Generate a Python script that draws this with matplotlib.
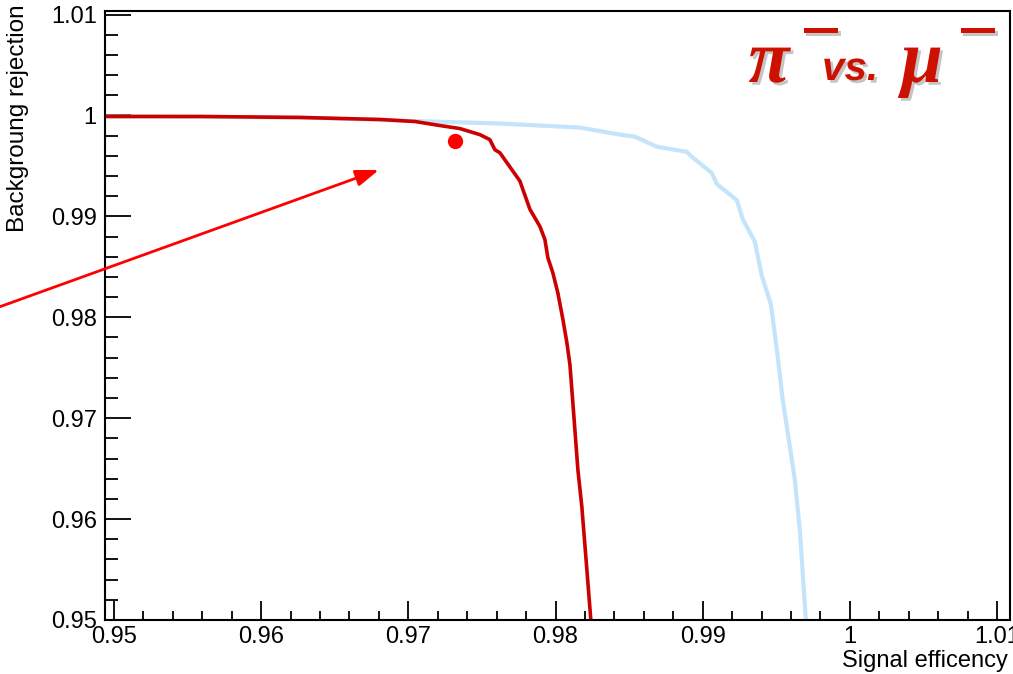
import matplotlib
matplotlib.use('Agg')
import matplotlib.pyplot as plt
import matplotlib.patheffects as pe
from matplotlib.ticker import FixedLocator, MultipleLocator, FuncFormatter

plt.rcParams['font.family'] = ['Liberation Sans', 'DejaVu Sans']

# pi- efficiency curve (dark red)
eff_pi = [0.94939, 0.95584, 0.96264, 0.96807, 0.97045, 0.97215, 0.97350, 0.97486, 0.97554,
          0.97588, 0.97622, 0.97690, 0.97758, 0.97826, 0.97894, 0.97928, 0.97948, 0.97982,
          0.98016, 0.98050, 0.98077, 0.98098, 0.98118, 0.98152, 0.98179, 0.98213, 0.98240]
rej_pi = [0.9999, 0.9999, 0.9998, 0.9996, 0.9994, 0.9990, 0.9987, 0.9981, 0.9976,
          0.9966, 0.9963, 0.9949, 0.9935, 0.9907, 0.9890, 0.9877, 0.9859, 0.9844,
          0.9824, 0.9798, 0.9775, 0.9753, 0.9715, 0.9649, 0.9612, 0.9550, 0.9500]

# second curve (light blue)
eff_b = [0.94939, 0.96264, 0.97147, 0.97622, 0.98165, 0.98437, 0.98539, 0.98689, 0.98892,
         0.98926, 0.98994, 0.99062, 0.99096, 0.99232, 0.99273, 0.99354, 0.99402, 0.99463,
         0.99504, 0.99544, 0.99592, 0.99626, 0.99660, 0.99701]
rej_b = [0.9999, 0.9998, 0.9994, 0.9992, 0.9988, 0.9981, 0.9979, 0.9969, 0.9964,
         0.9959, 0.9951, 0.9943, 0.9932, 0.9916, 0.9897, 0.9875, 0.9841, 0.9813,
         0.9768, 0.9718, 0.9672, 0.9639, 0.9589, 0.9500]

# working point marker
wp_eff = [0.9732]
wp_rej = [0.9975]

# arrow tail/head
arrow_tail = (0.94226, 0.98105)
arrow_head = (0.9680, 0.99460)

xticks = [0.95, 0.96, 0.97, 0.98, 0.99, 1.0, 1.01]
yticks = [0.95, 0.96, 0.97, 0.98, 0.99, 1.0, 1.01]

fig = plt.figure(figsize=(10.13, 6.74), dpi=100)
ax = fig.add_axes([105/1013, 54/674, 905/1013, 609/674])

ax.plot(eff_b, rej_b, color='#c4e4fb', lw=3.0, solid_joinstyle='round')
ax.plot(eff_pi, rej_pi, color='#cc0000', lw=2.6, solid_joinstyle='round')
ax.plot(wp_eff, wp_rej, 'o', color='#ff0000', ms=11, mec='none')

ax.annotate('', xy=arrow_head, xytext=arrow_tail, annotation_clip=False,
            arrowprops=dict(arrowstyle='-|>,head_length=1.4,head_width=0.5',
                            color='#ff0000', lw=2.0, shrinkA=0, shrinkB=0))

ax.set_xlim(0.94939, 1.01088)
ax.set_ylim(0.95, 1.01035)
ax.xaxis.set_major_locator(FixedLocator(xticks))
ax.yaxis.set_major_locator(FixedLocator(yticks))
ax.xaxis.set_minor_locator(MultipleLocator(0.002))
ax.yaxis.set_minor_locator(MultipleLocator(0.002))
fmt = FuncFormatter(lambda v, p: '%g' % round(v, 4))
ax.xaxis.set_major_formatter(fmt)
ax.yaxis.set_major_formatter(fmt)

ax.tick_params(axis='both', which='both', direction='in', top=False, right=False,
               labelsize=17, width=1.3, colors='black')
ax.tick_params(axis='x', which='major', length=13.5, pad=4)
ax.tick_params(axis='x', which='minor', length=6.5)
ax.tick_params(axis='y', which='major', length=19, pad=6)
ax.tick_params(axis='y', which='minor', length=9.5)
for s in ax.spines.values():
    s.set_linewidth(1.5)

fig.text(18/1013, 1 - 4/674, 'Backgroung rejection', rotation=90, ha='center', va='top', fontsize=17.5)
fig.text(1008/1013, 1 - 661/674, 'Signal efficency', ha='right', va='center', fontsize=17)

# title pi- vs. mu-
red = '#cc1100'
shadow = [pe.withSimplePatchShadow(offset=(2, -2), shadow_rgbFace='gray', alpha=0.45)]
fig.text(769/1013, 1 - 82/674, 'π', ha='center', va='baseline', fontsize=54, color=red,
         family='Liberation Serif', style='italic', weight='bold', path_effects=shadow)
fig.text(850/1013, 1 - 80/674, 'vs.', ha='center', va='baseline', fontsize=29, color=red,
         style='italic', weight='bold', path_effects=shadow)
fig.text(922/1013, 1 - 82/674, 'μ', ha='center', va='baseline', fontsize=54, color=red,
         family='Liberation Serif', style='italic', weight='bold', path_effects=shadow)
fig.text(821/1013, 1 - 30/674, '—', ha='center', va='center', fontsize=28, color=red,
         family='DejaVu Sans', weight='bold', path_effects=shadow)
fig.text(978/1013, 1 - 30/674, '—', ha='center', va='center', fontsize=28, color=red,
         family='DejaVu Sans', weight='bold', path_effects=shadow)

fig.savefig('out.png', dpi=100)
